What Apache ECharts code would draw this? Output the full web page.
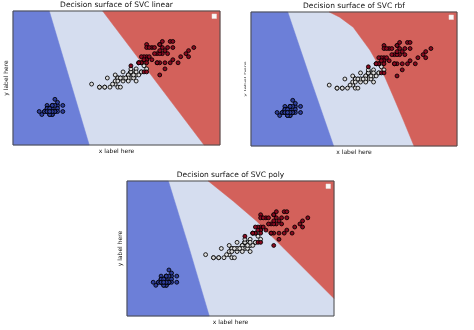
<!DOCTYPE html>
<html><head><meta charset="utf-8">
<script src="https://cdn.jsdelivr.net/npm/echarts@6/dist/echarts.min.js"></script>
<style>html,body{margin:0;padding:0;background:#fff}#c{width:474px;height:330px}</style>
</head><body><div id="c"></div>
<script>
// ---- data ----
const plotTitles = ['Decision surface of SVC linear', 'Decision surface of SVC rbf', 'Decision surface of SVC poly'];
const xLabel = 'x label here';
const yLabel = 'y label here';
const xRange = [0, 7.9];
const yRange = [-0.9, 3.5];

// iris petal length / petal width
const setosa = [[1.4,0.2],[1.4,0.2],[1.3,0.2],[1.5,0.2],[1.4,0.2],[1.7,0.4],[1.4,0.3],[1.5,0.2],[1.4,0.2],[1.5,0.1],
[1.5,0.2],[1.6,0.2],[1.4,0.1],[1.1,0.1],[1.2,0.2],[1.5,0.4],[1.3,0.4],[1.4,0.3],[1.7,0.3],[1.5,0.3],
[1.7,0.2],[1.5,0.4],[1.0,0.2],[1.7,0.5],[1.9,0.2],[1.6,0.2],[1.6,0.4],[1.5,0.2],[1.4,0.2],[1.6,0.2],
[1.6,0.2],[1.5,0.4],[1.5,0.1],[1.4,0.2],[1.5,0.2],[1.2,0.2],[1.3,0.2],[1.4,0.1],[1.3,0.2],[1.5,0.2],
[1.3,0.3],[1.3,0.3],[1.3,0.2],[1.6,0.6],[1.9,0.4],[1.4,0.3],[1.6,0.2],[1.4,0.2],[1.5,0.2],[1.4,0.2]];
const versicolor = [[4.7,1.4],[4.5,1.5],[4.9,1.5],[4.0,1.3],[4.6,1.5],[4.5,1.3],[4.7,1.6],[3.3,1.0],[4.6,1.3],[3.9,1.4],
[3.5,1.0],[4.2,1.5],[4.0,1.0],[4.7,1.4],[3.6,1.3],[4.4,1.4],[4.5,1.5],[4.1,1.0],[4.5,1.5],[3.9,1.1],
[4.8,1.8],[4.0,1.3],[4.9,1.5],[4.7,1.2],[4.3,1.3],[4.4,1.4],[4.8,1.4],[5.0,1.7],[4.5,1.5],[3.5,1.0],
[3.8,1.1],[3.7,1.0],[3.9,1.2],[5.1,1.6],[4.5,1.5],[4.5,1.6],[4.7,1.5],[4.4,1.3],[4.1,1.3],[4.0,1.3],
[4.4,1.2],[4.6,1.4],[4.0,1.2],[3.3,1.0],[4.2,1.3],[4.2,1.2],[4.2,1.3],[4.3,1.3],[3.0,1.1],[4.1,1.3]];
const virginica = [[6.0,2.5],[5.1,1.9],[5.9,2.1],[5.6,1.8],[5.8,2.2],[6.6,2.1],[4.5,1.7],[6.3,1.8],[5.8,1.8],[6.1,2.5],
[5.1,2.0],[5.3,1.9],[5.5,2.1],[5.0,2.0],[5.1,2.4],[5.3,2.3],[5.5,1.8],[6.7,2.2],[6.9,2.3],[5.0,1.5],
[5.7,2.3],[4.9,2.0],[6.7,2.0],[4.9,1.8],[5.7,2.1],[6.0,1.8],[4.8,1.8],[4.9,1.8],[5.6,2.1],[5.8,1.6],
[6.1,1.9],[6.4,2.0],[5.6,2.2],[5.1,1.5],[5.6,1.4],[6.1,2.3],[5.6,2.4],[5.5,1.8],[4.8,1.8],[5.4,2.1],
[5.6,2.4],[5.1,2.3],[5.1,1.9],[5.9,2.3],[5.7,2.5],[5.2,2.3],[5.0,1.9],[5.2,2.0],[5.4,2.3],[5.1,1.8]];

// decision regions (vertices in data units)
const fullArea = [[0,3.5],[7.9,3.5],[7.9,-0.9],[0,-0.9]];
const linearBlue = [[0,3.5],[1.385,3.5],[2.91,-0.9],[0,-0.9]];
const linearRed = [[3.42,3.5],[7.9,3.5],[7.9,-0.9],[7.29,-0.9]];
const rbfBlue = [[0,3.5],[1.41,3.5],[2.28,1.3],[3.17,-0.9],[0,-0.9]];
const rbfRed = [[3.0,3.5],[3.4,3.33],[3.92,3.0],[4.56,2.25],[5.07,1.49],[5.46,0.72],[5.84,-0.05],[6.25,-0.9],[7.9,-0.9],[7.9,3.5]];
const polyBlue = [[0,3.5],[1.58,3.5],[2.37,1.32],[3.14,-0.9],[0,-0.9]];
const polyRed = [[3.10,3.5],[4.06,2.84],[4.95,2.19],[5.97,1.32],[6.86,0.56],[7.9,-0.33],[7.9,3.5]];

// ---- styling / layout ----
const regionColors = ['#d5ddef', '#6c7fd8', '#d3615b'];
const regionSets = [
  [fullArea, linearBlue, linearRed],
  [fullArea, rbfBlue, rbfRed],
  [fullArea, polyBlue, polyRed]
];
const grids = [
  {left: 13, top: 11, width: 207, height: 134},
  {left: 251, top: 12, width: 206, height: 134},
  {left: 127, top: 181, width: 207, height: 135}
];
const FONT = 'DejaVu Sans';

const option = {
  backgroundColor: '#fff',
  animation: false,
  title: grids.map((g, i) => ({
    text: plotTitles[i],
    left: g.left + g.width / 2,
    textAlign: 'center',
    top: g.top - 10,
    padding: 0,
    textStyle: {fontFamily: FONT, fontSize: 7.5, fontWeight: 'normal', color: '#111'}
  })),
  grid: grids.map(g => Object.assign({containLabel: false}, g)),
  xAxis: grids.map((g, i) => ({
    gridIndex: i, type: 'value', min: xRange[0], max: xRange[1],
    name: xLabel, nameLocation: 'middle', nameGap: 3,
    nameTextStyle: {fontFamily: FONT, fontSize: 6, color: '#111', verticalAlign: 'top'},
    axisLine: {show: false}, axisTick: {show: false}, axisLabel: {show: false}, splitLine: {show: false}
  })),
  yAxis: grids.map((g, i) => ({
    gridIndex: i, type: 'value', min: yRange[0], max: yRange[1],
    name: i === 1 ? '' : yLabel, nameLocation: 'middle', nameGap: 4,
    nameTextStyle: {fontFamily: FONT, fontSize: 6, color: '#111'},
    axisLine: {show: false}, axisTick: {show: false}, axisLabel: {show: false}, splitLine: {show: false}
  })),
  graphic: [{
    type: 'text', x: 245, y: 79, rotation: Math.PI / 2, scaleY: 0.45,
    style: {text: yLabel, fontFamily: FONT, fontSize: 6, fill: '#222', align: 'center', verticalAlign: 'middle'}
  }],
  series: []
};

grids.forEach((g, i) => {
  const polys = regionSets[i];
  option.series.push({
    type: 'custom', xAxisIndex: i, yAxisIndex: i, z: 1, silent: true,
    data: polys.map((p, k) => [k]),
    renderItem: (params, api) => {
      const k = api.value(0);
      return {
        type: 'polygon',
        shape: {points: polys[k].map(pt => api.coord(pt))},
        style: {fill: regionColors[k], stroke: regionColors[k], lineWidth: 0.5}
      };
    }
  });
  const mk = (data, fill) => ({
    type: 'scatter', xAxisIndex: i, yAxisIndex: i, z: 3, silent: true,
    symbolSize: 3.9, data: data,
    itemStyle: {color: fill, borderColor: '#000', borderWidth: 0.85, opacity: 1}
  });
  option.series.push(mk(setosa, '#2f3f9e'), mk(versicolor, '#dcdcdc'), mk(virginica, '#8a0a20'));
  option.series.push({
    type: 'custom', xAxisIndex: i, yAxisIndex: i, z: 5, silent: true,
    data: [[0]],
    renderItem: (params, api) => {
      const c = params.coordSys;
      return {
        type: 'group',
        children: [
          {type: 'rect', shape: {x: c.x, y: c.y, width: c.width, height: c.height},
           style: {fill: 'none', stroke: '#4a4a4a', lineWidth: 1}},
          {type: 'rect', shape: {x: c.x + c.width - 8, y: c.y + 3, width: 4.5, height: 4.5},
           style: {fill: '#fbf7f6', stroke: '#e6e0df', lineWidth: 0.5}}
        ]
      };
    }
  });
});

const chart = echarts.init(document.getElementById('c'), null, {renderer: 'canvas'});
chart.setOption(option);
</script>
</body></html>
